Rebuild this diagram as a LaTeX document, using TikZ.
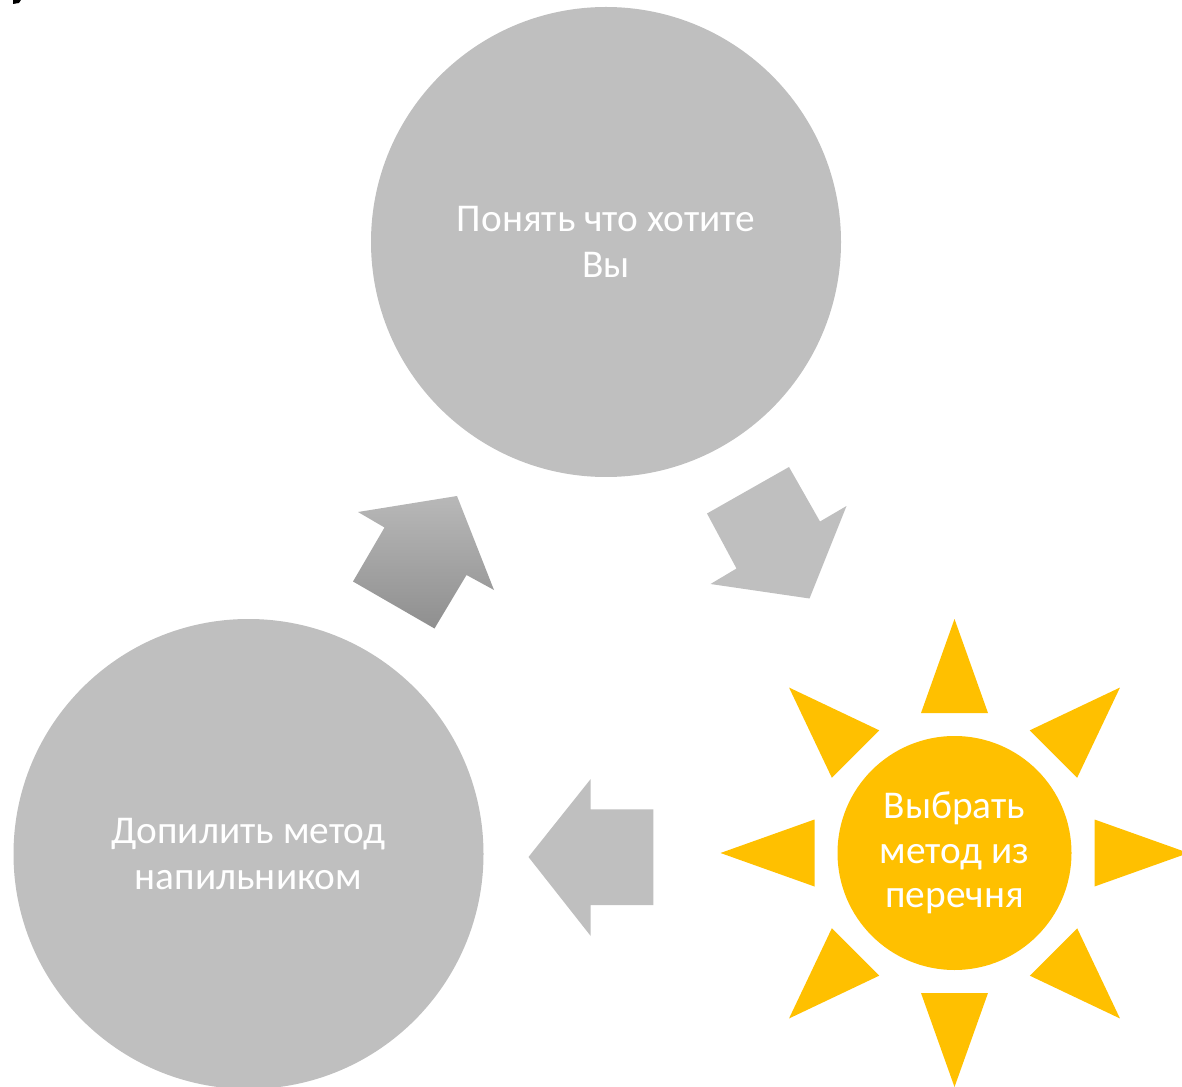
\documentclass[tikz,border=0pt]{standalone}
\usepackage{fontspec}
\setmainfont{Carlito}
\definecolor{grayc}{HTML}{BFBFBF}
\definecolor{sunc}{HTML}{FFC000}
\definecolor{grtop}{HTML}{B8B8B8}
\definecolor{grbot}{HTML}{8F8F8F}
\tikzset{
  bigcirc/.style={circle, fill=grayc, inner sep=0pt, minimum size=352.5pt, text=white, align=center, font=\fontsize{29.5}{34.5}\selectfont},
  suncirc/.style={circle, fill=sunc, inner sep=0pt, minimum size=175.5pt, text=white, align=center, font=\fontsize{29.5}{33.5}\selectfont},
  arrowshape/.style={fill=grayc},
}
\begin{document}
\begin{tikzpicture}[x=0.75pt, y=-0.75pt]
\useasboundingbox (0,0) rectangle (1182,1087);
% small mark top-left
\fill[black] (13,0) -- (21,0) -- (19,3) -- (13,4) -- cycle;
% circles
\node[bigcirc] (top) at (606,242) {Понять что хотите\\Вы};
\node[bigcirc] (left) at (248.5,854) {Допилить метод\\напильником};
% sun rays
\begin{scope}[shift={(954.5,853)}]
  \foreach \a in {0,45,...,315}
    \fill[sunc, rotate=\a] (0,-234) -- (-33.5,-140) -- (33.5,-140) -- cycle;
\end{scope}
\node[suncirc] (sun) at (954.5,853) {Выбрать\\метод из\\перечня};
% arrows
\shade[top color=grtop, bottom color=grbot] (358,512) -- (457,496) -- (494,590) -- (466.5,575) -- (434.5,628.5) -- (353,581.5) -- (384.5,527.5) -- cycle;
\fill[arrowshape] (789,467) -- (820,521.5) -- (846.5,506) -- (809.5,598.5) -- (710.5,584) -- (736.5,568.5) -- (707,513.5) -- cycle;
\fill[arrowshape] (528.5,857) -- (590.7,779) -- (590.7,809.3) -- (653.3,809.3) -- (653.3,905) -- (590.7,905) -- (590.7,936) -- cycle;
\end{tikzpicture}
\end{document}
